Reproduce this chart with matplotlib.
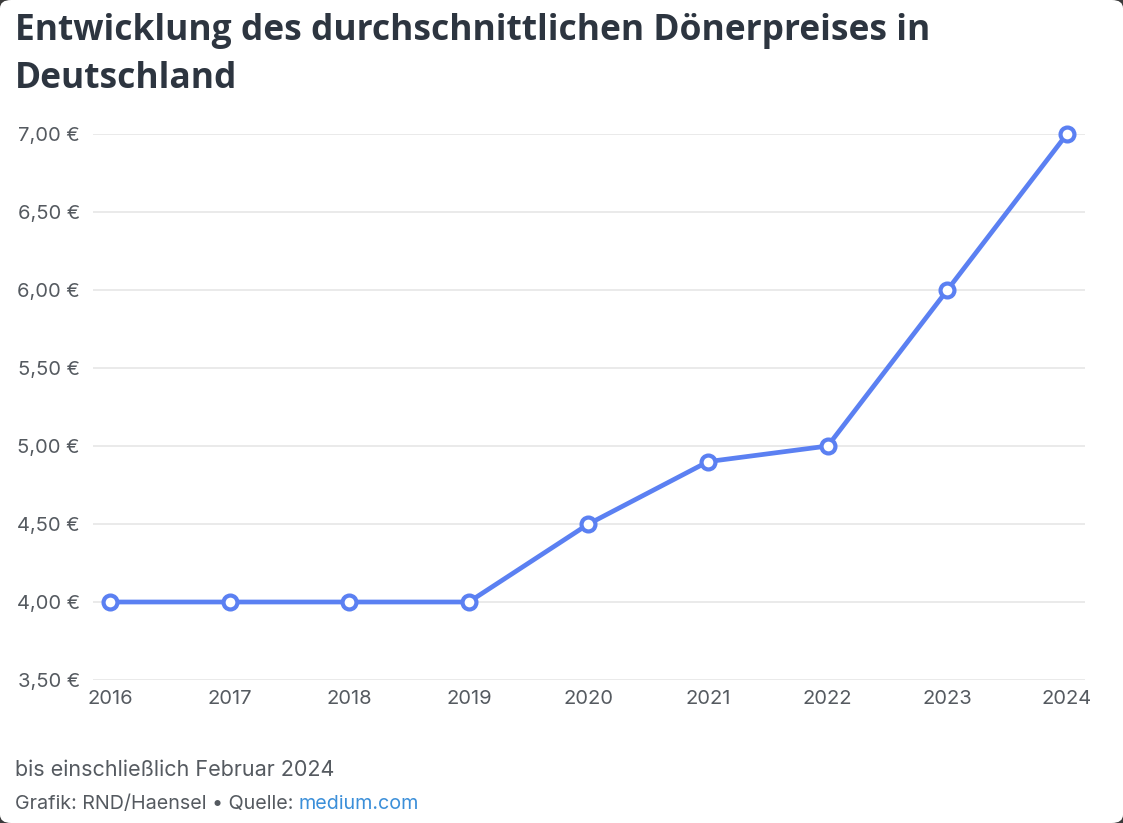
import matplotlib.pyplot as plt
from matplotlib.patches import FancyBboxPatch

years = [2016, 2017, 2018, 2019, 2020, 2021, 2022, 2023, 2024]
prices = [4.00, 4.00, 4.00, 4.00, 4.50, 4.90, 5.00, 6.00, 7.00]
yticks = [3.5, 4.0, 4.5, 5.0, 5.5, 6.0, 6.5, 7.0]
ylabels = ['3,50 €', '4,00 €', '4,50 €', '5,00 €', '5,50 €', '6,00 €', '6,50 €', '7,00 €']

W, H = 1123, 823
fig = plt.figure(figsize=(W / 100, H / 100), dpi=100)
fig.patch.set_facecolor('#3a3a3a')
# white card with rounded corners
card = FancyBboxPatch((0, 0), 1, 1, boxstyle='round,pad=0,rounding_size=0.01',
                      transform=fig.transFigure, facecolor='white', edgecolor='none', zorder=-10)
fig.patches.append(card)

ax = fig.add_axes([93 / W, 1 - 680 / H, (1085 - 93) / W, (680 - 134) / H])
ax.set_facecolor('none')
ax.set_zorder(5)

ax.plot(years, prices, color='#5b80f2', lw=3.4, marker='o', markersize=10,
        markerfacecolor='white', markeredgecolor='#5b80f2', markeredgewidth=3, clip_on=False, zorder=3)

ax.set_xlim(2016 - 17 / 119.6, 2024 + 18 / 119.6)
ax.set_ylim(3.5, 7.0)
ax.set_yticks(yticks)
ax.set_yticklabels(ylabels)
ax.set_xticks(years)
ax.set_xticklabels([str(y) for y in years])
ax.grid(axis='y', color='#e6e6e6', lw=1.2)
ax.set_axisbelow(True)
for s in ax.spines.values():
    s.set_visible(False)
ax.tick_params(length=0, labelsize=14.5, labelcolor='#555a60', pad=7)
ax.tick_params(axis='y', pad=9.5)
for lab in ax.get_xticklabels() + ax.get_yticklabels():
    lab.set_fontfamily('Inter')

fig.text(15 / W, 1 - 40 / H, 'Entwicklung des durchschnittlichen Dönerpreises in',
         fontsize=25.5, fontweight='bold', color='#2d3540', family='Open Sans',
         va='baseline', ha='left')
fig.text(15 / W, 1 - 88 / H, 'Deutschland',
         fontsize=25.5, fontweight='bold', color='#2d3540', family='Open Sans',
         va='baseline', ha='left')

fig.text(15 / W, 1 - 776 / H, 'bis einschließlich Februar 2024', fontsize=15.5,
         color='#555a60', family='Inter', va='baseline')
t = fig.text(15 / W, 1 - 809 / H, 'Grafik: RND/Haensel • Quelle: ', fontsize=14.2,
             color='#555a60', family='Inter', va='baseline')
fig.canvas.draw()
bb = t.get_window_extent()
fig.text(bb.x1 / W, 1 - 809 / H, 'medium.com', fontsize=14.2, color='#3b8fd9',
         family='Inter', va='baseline')

fig.savefig('out.png', dpi=100, facecolor=fig.get_facecolor())
